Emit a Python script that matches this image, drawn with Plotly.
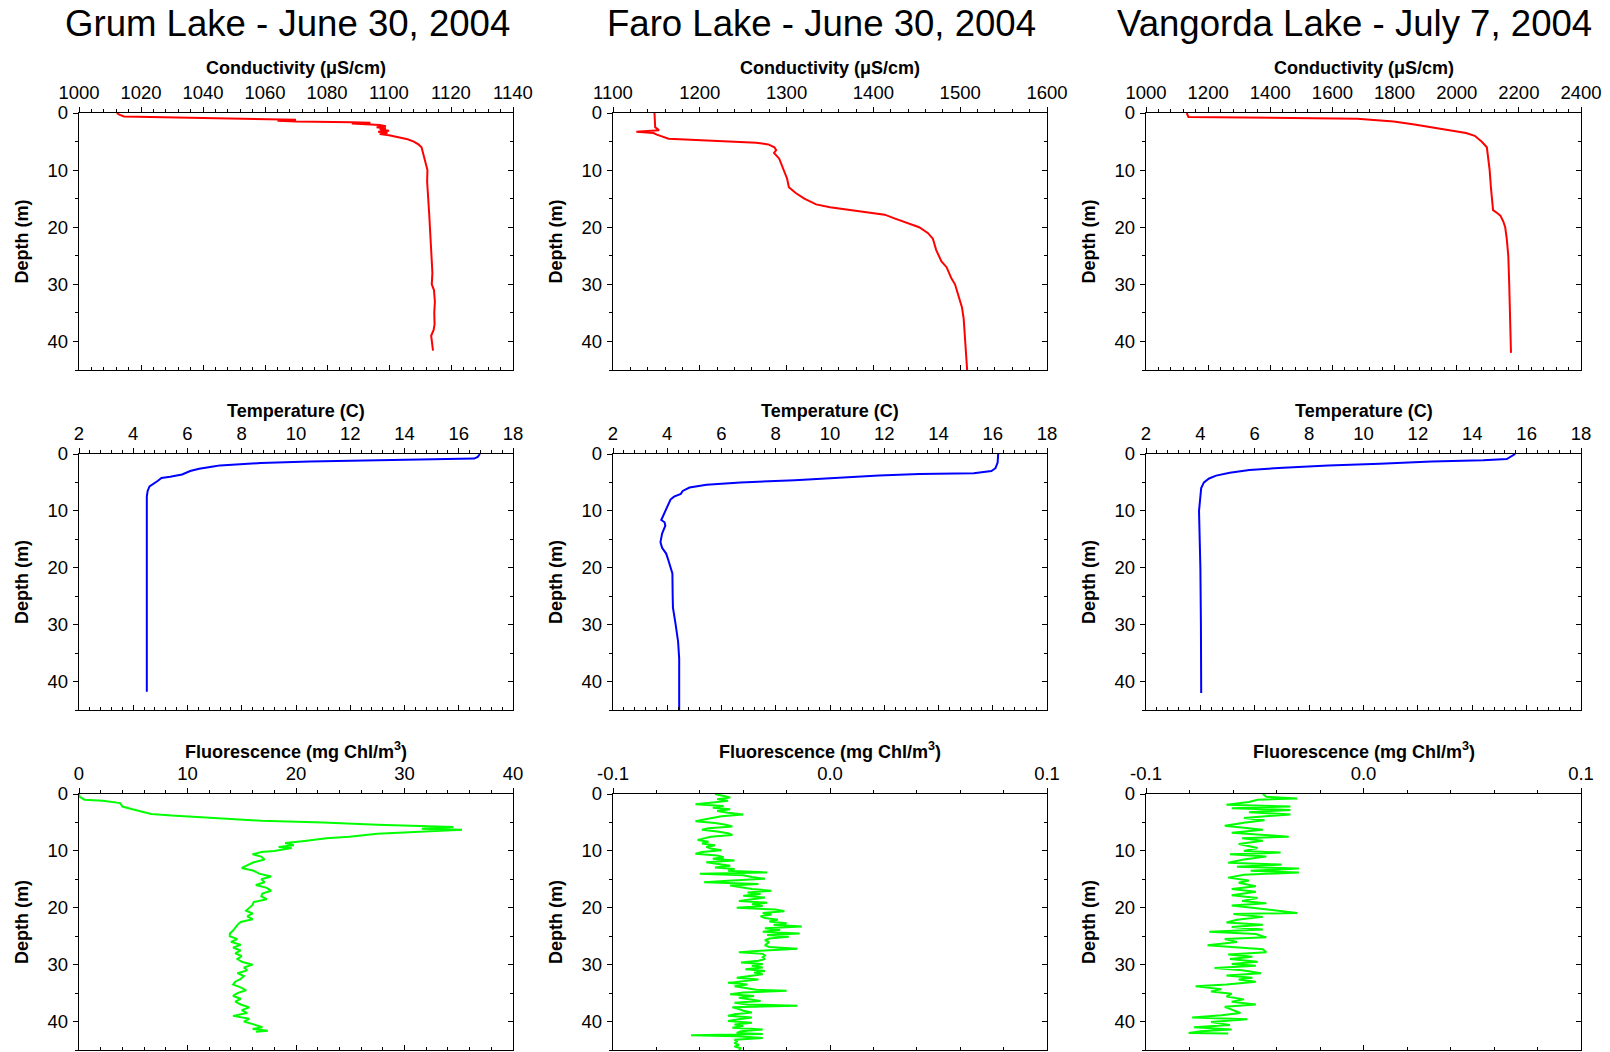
import plotly.graph_objects as go

# ---------------------------------------------------------------------------
# Profile data (depth in m, value in axis units)
# ---------------------------------------------------------------------------
lakes = ["Grum Lake - June 30, 2004", "Faro Lake - June 30, 2004", "Vangorda Lake - July 7, 2004"]

# Conductivity (uS/cm)
grum_cond_depth = [0.0, 0.3, 0.6, 0.9, 1.1, 1.2, 1.35, 1.5, 1.6, 1.7, 1.85, 2.0, 2.1, 2.3, 2.5,
                   2.7, 2.9, 3.1, 3.3, 3.5, 3.7, 3.9, 4.2, 4.6, 5.0, 5.5, 6.0, 7.0, 8.0, 9.0,
                   10, 12, 14, 16, 18, 20, 22, 24, 26, 28, 30, 31, 33, 35, 37, 38, 39, 40, 41, 41.6]
grum_cond = [1012.2, 1013.0, 1014.5, 1040, 1063, 1070, 1064, 1070, 1088, 1094, 1088, 1094, 1097,
             1099, 1096, 1099, 1097, 1100, 1096.5, 1099.5, 1097, 1100, 1103, 1106, 1108, 1109.5,
             1110.5, 1111, 1111.6, 1112, 1112.4, 1112.3, 1112.6, 1112.8, 1113, 1113.2, 1113.3,
             1113.6, 1113.8, 1114, 1113.8, 1114.5, 1114.8, 1114.6, 1114.7, 1114.4, 1113.6,
             1113.9, 1114, 1114.2]

faro_cond_depth = [0.0, 2.5, 3.0, 3.3, 3.5, 3.8, 4.5, 4.8, 5.2, 5.5, 6.0, 6.5, 7.0, 8.0, 10.0,
                   11.5, 13.0, 14.0, 15.0, 16.0, 16.5, 17.0, 17.5, 17.8, 18.5, 19.3, 20.0, 21.0,
                   22.0, 24.0, 26.0, 27.0, 29.0, 30.0, 32.0, 34.0, 36.0, 40.0, 43.0, 45.0]
faro_cond = [1147.8, 1148.6, 1153, 1126.9, 1146.6, 1150.5, 1164, 1215.7, 1265, 1279, 1286, 1288,
             1285.5, 1291.5, 1296.7, 1300.6, 1302.6, 1310.5, 1320.4, 1334, 1350, 1373.7, 1397.4,
             1413, 1425, 1440.8, 1452.7, 1462.6, 1468.5, 1472.4, 1478.4, 1484.3, 1490, 1494,
             1498, 1502, 1504, 1506, 1507.2, 1508]

vang_cond_depth = [0.0, 0.5, 0.7, 1.0, 1.5, 2.0, 2.6, 3.0, 3.5, 4.0, 5.0, 6.0, 8.0, 10.0, 13.0,
                   16.0, 17.0, 17.5, 18.0, 19.0, 20.0, 22.0, 25.0, 30.0, 35.0, 40.0, 42.0]
vang_cond = [1131, 1136.6, 1136.6, 1680, 1797, 1864, 1930, 1986, 2030, 2058, 2080, 2097, 2102,
             2106, 2110, 2113.6, 2117, 2130, 2141, 2150, 2156, 2161, 2166, 2169, 2171, 2172, 2174.6]

# Temperature (C)
grum_temp_depth = [0.0, 0.5, 0.8, 1.0, 1.3, 1.6, 2.0, 2.2, 2.6, 3.0, 3.6, 4.0, 4.2, 4.7, 5.3,
                   5.7, 6.5, 7.5, 10.0, 20.0, 30.0, 41.8]
grum_temp = [16.78, 16.7, 16.57, 14.3, 10.5, 8.7, 7.2, 6.95, 6.43, 6.1, 5.8, 5.36, 5.04, 4.91,
             4.72, 4.6, 4.53, 4.5, 4.5, 4.5, 4.5, 4.5]

faro_temp_depth = [0.0, 1.5, 2.5, 3.0, 3.4, 3.5, 3.8, 4.2, 4.6, 5.0, 5.4, 5.9, 6.5, 7.0, 7.5,
                   8.0, 9.0, 10.0, 11.0, 11.6, 12.0, 12.6, 14.0, 15.5, 16.5, 17.5, 18.5, 20.0,
                   21.0, 25.0, 27.0, 30.0, 33.0, 36.0, 40.0, 45.0]
faro_temp = [16.2, 16.18, 16.1, 15.95, 15.3, 13.3, 11.8, 10.4, 8.7, 6.7, 5.45, 4.82, 4.57, 4.5,
             4.25, 4.12, 4.03, 3.93, 3.83, 3.78, 3.9, 3.93, 3.81, 3.75, 3.81, 3.96, 4.03, 4.12,
             4.19, 4.2, 4.21, 4.31, 4.4, 4.44, 4.44, 4.44]

vang_temp_depth = [0.0, 0.5, 0.9, 1.1, 1.3, 1.7, 2.0, 2.4, 2.8, 3.3, 3.8, 4.3, 5.0, 6.0, 8.0,
                   10.0, 12.0, 15.0, 20.0, 30.0, 42.0]
vang_temp = [15.58, 15.43, 15.27, 14.4, 12.5, 10.6, 8.7, 7.05, 5.8, 5.08, 4.58, 4.32, 4.13, 4.03,
             3.98, 3.95, 3.96, 3.98, 4.0, 4.02, 4.03]

# Fluorescence (mg Chl/m3)
grum_fl_depth = [0.0, 0.5, 1.0, 1.2, 1.6, 2.2, 2.6, 3.0, 3.5, 3.8, 4.2, 4.5, 4.7, 5.0, 5.4, 5.8,
                 6.1, 6.3, 6.6, 7.0, 7.5, 7.8, 8.3, 8.6, 9.0, 9.3, 9.5, 10.0, 10.2, 10.6, 11.0,
                 11.5, 12.0, 12.5, 13.0, 13.5, 14.0, 14.5, 15.0, 15.5, 16.0, 16.5, 17.0, 17.5,
                 18.0, 18.5, 19.0, 19.5, 20.0, 20.5, 21.0, 21.5, 22.0, 22.5, 23.0, 23.5, 24.0,
                 24.5, 25.0, 25.5, 26.0, 26.5, 27.0, 27.5, 28.0, 28.5, 29.0, 29.5, 30.0, 30.5,
                 31.0, 31.5, 32.0, 32.5, 33.0, 33.5, 34.0, 34.5, 35.0, 35.5, 36.0, 36.5, 37.0,
                 37.5, 38.0, 38.5, 39.0, 39.5, 40.0, 40.5, 41.0, 41.3, 41.6, 41.8]
grum_fl = [0.0, 0.06, 0.5, 2.2, 3.8, 4.0, 4.75, 5.7, 6.65, 8.55, 12.0, 15.2, 16.8, 22.5, 27.5,
           34.5, 31.6, 35.3, 32.3, 27.5, 24.9, 22.8, 20.6, 19.0, 19.8, 18.4, 19.6, 18.0, 16.8,
           16.0, 16.8, 17.1, 16.1, 15.5, 15.0, 16.1, 16.6, 17.7, 16.8, 17.1, 16.3, 17.3, 17.7,
           16.9, 16.8, 17.3, 16.1, 16.0, 15.7, 15.4, 16.0, 15.5, 16.0, 14.9, 14.6, 14.4, 14.2,
           13.9, 13.9, 14.6, 14.0, 14.9, 14.2, 14.9, 14.4, 15.0, 14.6, 15.0, 16.0, 15.2, 15.5,
           14.6, 15.2, 14.9, 14.4, 14.2, 14.9, 15.4, 14.6, 14.2, 14.9, 14.4, 14.9, 15.7, 15.0,
           15.5, 14.2, 15.7, 15.2, 16.1, 16.9, 16.0, 17.4, 16.3]

faro_fl_depth = [0.0, 0.3, 0.6, 0.9, 1.2, 1.5, 1.8, 2.1, 2.4, 2.7, 3.0, 3.3, 3.6, 3.9, 4.2, 4.5,
                 4.8, 5.1, 5.4, 5.7, 6.0, 6.3, 6.6, 6.9, 7.2, 7.5, 7.8, 8.1, 8.4, 8.7, 9.0, 9.3,
                 9.6, 9.9, 10.2, 10.5, 10.8, 11.1, 11.4, 11.7, 12.0, 12.3, 12.6, 12.9, 13.2,
                 13.5, 13.8, 14.0, 14.3, 14.6, 14.9, 15.2, 15.5, 15.8, 16.1, 16.4, 16.7, 17.0,
                 17.3, 17.6, 17.9, 18.2, 18.5, 18.8, 19.1, 19.4, 19.7, 20.0, 20.3, 20.6, 20.9,
                 21.2, 21.5, 21.8, 22.1, 22.4, 22.7, 23.0, 23.3, 23.6, 23.9, 24.2, 24.5, 24.8,
                 25.1, 25.4, 25.7, 26.0, 26.3, 26.6, 26.9, 27.2, 27.5, 27.8, 28.1, 28.4, 28.7,
                 29.0, 29.3, 29.6, 29.9, 30.2, 30.5, 30.8, 31.1, 31.4, 31.7, 32.0, 32.3, 32.6,
                 32.9, 33.2, 33.5, 33.8, 34.1, 34.4, 34.6, 34.9, 35.2, 35.5, 35.8, 36.1, 36.4,
                 36.7, 37.0, 37.2, 37.5, 37.8, 38.1, 38.4, 38.7, 39.0, 39.3, 39.6, 39.9, 40.2,
                 40.5, 40.8, 41.1, 41.4, 41.7, 42.0, 42.2, 42.4, 42.6, 42.9, 43.2, 43.5, 43.8,
                 44.1, 44.4, 44.7, 45.0]
faro_fl = [-0.053, -0.050, -0.046, -0.052, -0.047, -0.054, -0.062, -0.049, -0.054, -0.046,
           -0.052, -0.047, -0.040, -0.050, -0.055, -0.058, -0.062, -0.053, -0.048, -0.045,
           -0.056, -0.059, -0.052, -0.047, -0.045, -0.055, -0.058, -0.061, -0.056, -0.059,
           -0.053, -0.057, -0.055, -0.050, -0.059, -0.062, -0.052, -0.049, -0.054, -0.044,
           -0.057, -0.051, -0.046, -0.053, -0.044, -0.047, -0.029, -0.060, -0.040, -0.036,
           -0.030, -0.045, -0.058, -0.033, -0.046, -0.041, -0.036, -0.027, -0.038, -0.032,
           -0.040, -0.030, -0.035, -0.042, -0.029, -0.036, -0.031, -0.043, -0.025, -0.021,
           -0.031, -0.027, -0.032, -0.030, -0.024, -0.028, -0.020, -0.026, -0.013, -0.030,
           -0.023, -0.031, -0.014, -0.029, -0.019, -0.028, -0.030, -0.028, -0.029, -0.030,
           -0.028, -0.015, -0.030, -0.042, -0.031, -0.030, -0.031, -0.030, -0.033, -0.041,
           -0.031, -0.036, -0.031, -0.039, -0.030, -0.035, -0.031, -0.037, -0.043, -0.033,
           -0.040, -0.047, -0.038, -0.044, -0.039, -0.034, -0.020, -0.040, -0.046, -0.035,
           -0.042, -0.037, -0.032, -0.044, -0.038, -0.015, -0.045, -0.042, -0.040, -0.036,
           -0.044, -0.047, -0.036, -0.042, -0.047, -0.036, -0.044, -0.040, -0.045, -0.031,
           -0.041, -0.043, -0.031, -0.064, -0.043, -0.031, -0.044, -0.043, -0.044, -0.042,
           -0.044, -0.041, -0.042]

vang_fl_depth = [0.0, 0.5, 0.8, 1.0, 1.4, 1.9, 2.2, 2.5, 2.8, 3.2, 3.6, 4.2, 4.6, 5.0, 5.6, 6.3,
                 6.8, 7.3, 7.5, 7.8, 8.2, 8.8, 9.5, 10.0, 10.3, 10.6, 11.0, 11.5, 12.1, 12.4,
                 12.8, 13.1, 13.5, 13.8, 14.2, 14.7, 15.2, 15.6, 16.2, 16.7, 17.2, 17.8, 18.3,
                 18.8, 19.2, 19.6, 20.2, 20.9, 21.1, 21.6, 22.1, 22.6, 23.0, 23.4, 23.8, 24.2,
                 24.6, 25.2, 25.5, 26.0, 26.6, 26.9, 27.3, 27.8, 28.2, 28.6, 29.0, 29.5, 29.9,
                 30.2, 30.6, 31.0, 31.5, 31.9, 32.3, 32.6, 33.0, 33.5, 33.8, 34.3, 34.7, 35.1,
                 35.6, 36.1, 36.5, 37.0, 37.4, 37.9, 38.5, 38.9, 39.3, 39.6, 40.1, 40.6, 41.0,
                 41.4, 41.7, 42.0, 42.1]
vang_fl = [-0.0463, -0.0447, -0.0305, -0.0487, -0.0527, -0.0630, -0.0336, -0.0606, -0.0336,
           -0.0527, -0.0336, -0.0550, -0.0455, -0.0542, -0.0638, -0.0463, -0.0606, -0.0431,
           -0.0344, -0.0558, -0.0463, -0.0574, -0.0487, -0.0550, -0.0381, -0.0614, -0.0447,
           -0.0550, -0.0622, -0.0376, -0.0582, -0.0297, -0.0519, -0.0297, -0.0550, -0.0622,
           -0.0527, -0.0574, -0.0495, -0.0606, -0.0495, -0.0606, -0.0487, -0.0558, -0.0447,
           -0.0606, -0.0463, -0.0305, -0.0598, -0.0463, -0.0582, -0.0630, -0.0463, -0.0606,
           -0.0463, -0.0709, -0.0495, -0.0447, -0.0638, -0.0582, -0.0717, -0.0606, -0.0463,
           -0.0447, -0.0622, -0.0511, -0.0614, -0.0487, -0.0606, -0.0495, -0.0685, -0.0558,
           -0.0471, -0.0630, -0.0511, -0.0574, -0.0495, -0.0630, -0.0772, -0.0653, -0.0701,
           -0.0606, -0.0630, -0.0550, -0.0606, -0.0495, -0.0638, -0.0606, -0.0566, -0.0653,
           -0.0788, -0.0534, -0.0701, -0.0614, -0.0780, -0.0606, -0.0749, -0.0804, -0.0622]

# Axis titles, ranges and tick labels
row_titles = ["Conductivity (\u03bcS/cm)", "Temperature (C)",
              "Fluorescence (mg Chl/m<sup>3</sup>)"]
cond_ticks = [[1000, 1020, 1040, 1060, 1080, 1100, 1120, 1140],
              [1100, 1200, 1300, 1400, 1500, 1600],
              [1000, 1200, 1400, 1600, 1800, 2000, 2200, 2400]]
temp_ticks = [2, 4, 6, 8, 10, 12, 14, 16, 18]
fl_ticks = [[0, 10, 20, 30, 40], [-0.1, 0.0, 0.1], [-0.1, 0.0, 0.1]]
fl_ticktext = [["0", "10", "20", "30", "40"], ["-0.1", "0.0", "0.1"], ["-0.1", "0.0", "0.1"]]
depth_ticks = [0, 10, 20, 30, 40]
depth_range = [45, 0]

# ---------------------------------------------------------------------------
# Panel setup
# ---------------------------------------------------------------------------
W, H = 1610, 1052
FONT = "Arial, 'Liberation Sans', sans-serif"
col_left = [79, 613, 1146]
col_right = [513, 1047, 1581]
row_top = [113, 454, 794]
row_bot = [370, 710, 1050]
title_gap = [45, 43, 44]  # axis-title centre above each row's frame

panels = []  # (row, col, depth, values, colour, ticks, ticktext)
cond_sets = [(grum_cond_depth, grum_cond), (faro_cond_depth, faro_cond), (vang_cond_depth, vang_cond)]
temp_sets = [(grum_temp_depth, grum_temp), (faro_temp_depth, faro_temp), (vang_temp_depth, vang_temp)]
fl_sets = [(grum_fl_depth, grum_fl), (faro_fl_depth, faro_fl), (vang_fl_depth, vang_fl)]
for c in range(3):
    t = cond_ticks[c]
    panels.append((0, c, cond_sets[c][0], cond_sets[c][1], "#ff0000", t, [str(v) for v in t]))
for c in range(3):
    panels.append((1, c, temp_sets[c][0], temp_sets[c][1], "#0000ff", temp_ticks,
                   [str(v) for v in temp_ticks]))
for c in range(3):
    panels.append((2, c, fl_sets[c][0], fl_sets[c][1], "#00ff00", fl_ticks[c], fl_ticktext[c]))

fig = go.Figure()
layout = dict(width=W, height=H,
              margin=dict(l=0, r=0, t=0, b=0, pad=0, autoexpand=False),
              paper_bgcolor="white", plot_bgcolor="white", showlegend=False,
              font=dict(family=FONT, color="black"))
annotations = []

tickfont = dict(family=FONT, size=18.5, color="black")
N = len(panels)
for i, (r, c, depth, vals, colour, ticks, ticktext) in enumerate(panels):
    k = i + 1
    kx = k + N  # overlay axes carrying the bottom/right tick marks
    sfx = "" if k == 1 else str(k)
    xd = [col_left[c] / W, col_right[c] / W]
    yd = [1 - row_bot[r] / H, 1 - row_top[r] / H]
    xr = [ticks[0], ticks[-1]]
    major = ticks[1] - ticks[0]
    minor_dt = major / 5

    layout["xaxis" + sfx] = dict(
        domain=xd, anchor="y" + sfx, side="top", range=xr, automargin=False,
        tickmode="array", tickvals=ticks, ticktext=ticktext, ticklabelstandoff=0,
        ticks="outside", ticklen=5, tickwidth=1, tickcolor="black",
        showline=True, linecolor="black", linewidth=1.3, mirror=True,
        showgrid=False, zeroline=False, tickfont=tickfont,
        minor=dict(tickmode="linear", tick0=ticks[0], dtick=minor_dt, ticks="outside",
                   ticklen=3, tickwidth=1, tickcolor="black", showgrid=False),
        fixedrange=True)
    layout["yaxis" + sfx] = dict(
        domain=yd, anchor="x" + sfx, range=depth_range, automargin=False,
        tickmode="array", tickvals=depth_ticks, ticklabelstandoff=1,
        ticks="outside", ticklen=5, tickwidth=1, tickcolor="black",
        showline=True, linecolor="black", linewidth=1.3, mirror=True,
        showgrid=False, zeroline=False, tickfont=tickfont,
        minor=dict(tickmode="linear", tick0=0, dtick=5, ticks="outside",
                   ticklen=3, tickwidth=1, tickcolor="black", showgrid=False),
        fixedrange=True)
    # bottom and right edges: ticks pointing into the frame
    layout["xaxis" + str(kx)] = dict(
        overlaying="x" + sfx if sfx else "x", anchor="y" + sfx, side="bottom", range=xr,
        automargin=False,
        tickmode="array", tickvals=ticks, ticks="inside", ticklen=5, tickwidth=1,
        tickcolor="black", showticklabels=False, showline=False, showgrid=False,
        zeroline=False,
        minor=dict(tickmode="linear", tick0=ticks[0], dtick=minor_dt, ticks="inside",
                   ticklen=3, tickwidth=1, tickcolor="black", showgrid=False),
        fixedrange=True)
    layout["yaxis" + str(kx)] = dict(
        overlaying="y" + sfx if sfx else "y", anchor="x" + sfx, side="right",
        range=depth_range, automargin=False,
        tickmode="array", tickvals=depth_ticks, ticks="inside",
        ticklen=5, tickwidth=1, tickcolor="black", showticklabels=False, showline=False,
        showgrid=False, zeroline=False,
        minor=dict(tickmode="linear", tick0=0, dtick=5, ticks="inside", ticklen=3,
                   tickwidth=1, tickcolor="black", showgrid=False),
        fixedrange=True)

    fig.add_trace(go.Scatter(x=vals, y=depth, mode="lines", xaxis="x" + sfx, yaxis="y" + sfx,
                             line=dict(color=colour, width=2), hoverinfo="skip"))
    fig.add_trace(go.Scatter(x=[None], y=[None], mode="lines", xaxis="x" + str(kx),
                             yaxis="y" + sfx, hoverinfo="skip"))
    fig.add_trace(go.Scatter(x=[None], y=[None], mode="lines", xaxis="x" + sfx,
                             yaxis="y" + str(kx), hoverinfo="skip"))

    # axis titles
    annotations.append(dict(
        text="<b>" + row_titles[r] + "</b>", xref="paper", yref="paper",
        x=(col_left[c] + col_right[c]) / 2 / W, y=1 - (row_top[r] - title_gap[r]) / H,
        xanchor="center", yanchor="middle", showarrow=False,
        font=dict(family=FONT, size=18, color="black")))
    annotations.append(dict(
        text="<b>Depth (m)</b>", xref="paper", yref="paper",
        x=(col_left[c] - 57) / W, y=1 - (row_top[r] + row_bot[r]) / 2 / H,
        xanchor="center", yanchor="middle", textangle=-90, showarrow=False,
        font=dict(family=FONT, size=18, color="black")))

# lake titles above each column
for c, name in enumerate(lakes):
    annotations.append(dict(
        text=name, xref="paper", yref="paper",
        x=((col_left[c] + col_right[c]) / 2 - 9) / W, y=1 - 23 / H,
        xanchor="center", yanchor="middle", showarrow=False,
        font=dict(family=FONT, size=36.6, color="black")))

layout["annotations"] = annotations
fig.update_layout(**layout)
fig.write_html("out.html")
